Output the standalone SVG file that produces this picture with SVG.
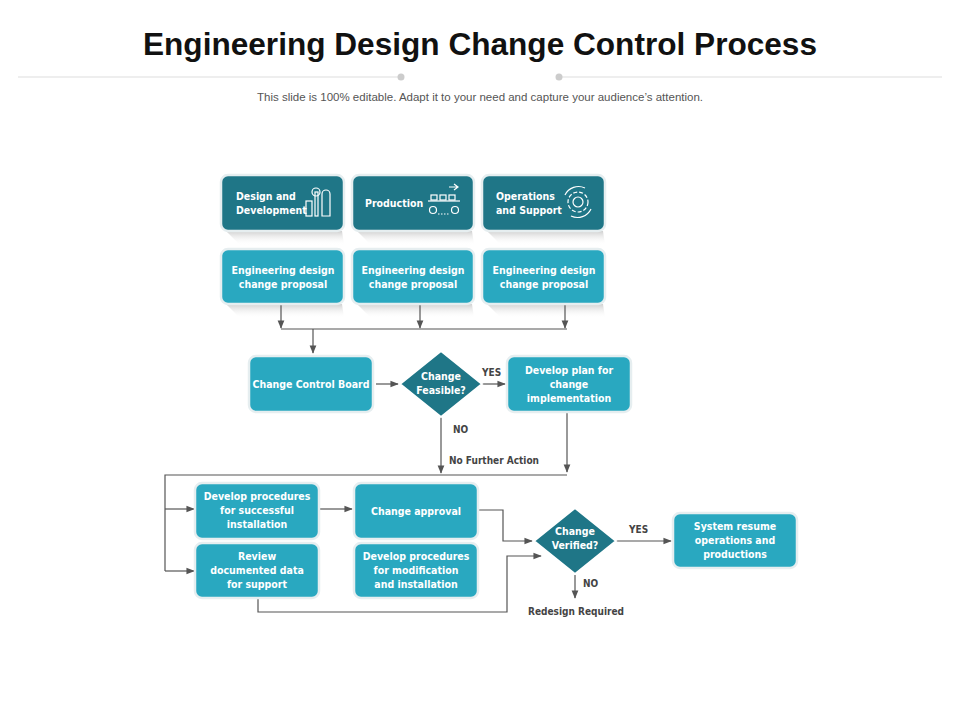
<svg xmlns="http://www.w3.org/2000/svg" width="960" height="720" viewBox="0 0 960 720">
<defs>
<marker id="ah" viewBox="0 0 10 10" refX="9" refY="5" markerWidth="7" markerHeight="7" orient="auto"><path d="M0,1 L10,5 L0,9 z" fill="#555"/></marker>
<linearGradient id="sh" x1="0" y1="0" x2="0" y2="1"><stop offset="0" stop-color="#cfcfcf"/><stop offset="1" stop-color="#ffffff" stop-opacity="0"/></linearGradient>
</defs>
<style>
.dk{fill:#1f7687;stroke:#e6eef0;stroke-width:2.5}
.lt{fill:#29a8c0;stroke:#e6eef0;stroke-width:2.5}
.dd{fill:#1f7687;stroke:#ffffff;stroke-width:2}
.t{font-family:"DejaVu Sans Condensed","Liberation Sans",sans-serif;font-weight:bold;font-size:10.5px;fill:#fff;text-anchor:middle}
.tl{text-anchor:start}
.lb{font-family:"DejaVu Sans Condensed","Liberation Sans",sans-serif;font-weight:bold;font-size:10px;fill:#444}
.c{fill:none;stroke:#555;stroke-width:1.2}
.a{marker-end:url(#ah)}
.ic{fill:none;stroke:#fff;stroke-width:1.2}
.shd{fill:url(#sh)}
</style>
<rect width="960" height="720" fill="#fff"/>
<text x="480" y="55" text-anchor="middle" font-family="Liberation Sans,sans-serif" font-weight="bold" font-size="32" fill="#111" textLength="674" lengthAdjust="spacingAndGlyphs">Engineering Design Change Control Process</text>
<line x1="18" y1="77" x2="398" y2="77" stroke="#ddd" stroke-width="1"/>
<line x1="562" y1="77" x2="942" y2="77" stroke="#ddd" stroke-width="1"/>
<circle cx="401" cy="77" r="3.5" fill="#ccc"/><circle cx="559" cy="77" r="3.5" fill="#ccc"/>
<text x="480" y="101" text-anchor="middle" font-family="Liberation Sans,sans-serif" font-size="11.5" fill="#555">This slide is 100% editable. Adapt it to your need and capture your audience’s attention.</text>

<g id="shadows">
<polygon class="shd" points="226,231 342,231 344,245 240,245"/>
<polygon class="shd" points="357,231 472,231 474,245 371,245"/>
<polygon class="shd" points="487,231 603,231 605,245 501,245"/>
<polygon class="shd" points="226,304 342,304 344,318 240,318"/>
<polygon class="shd" points="357,304 472,304 474,318 371,318"/>
<polygon class="shd" points="487,304 603,304 605,318 501,318"/>
</g>

<g id="connectors">
<path class="c a" d="M281,305 V328"/>
<path class="c a" d="M420,305 V328"/>
<path class="c a" d="M565,305 V328"/>
<path class="c" d="M281,329 H567"/>
<path class="c a" d="M313,329 V353"/>
<path class="c a" d="M376,384 H398"/>
<path class="c a" d="M482,384 H505"/>
<path class="c a" d="M441,417 V473"/>
<path class="c a" d="M567,413 V472"/>
<path class="c" d="M567,475 H165 V571"/>
<path class="c a" d="M165,509 H194"/>
<path class="c a" d="M165,571 H194"/>
<path class="c a" d="M320,509 H352"/>
<path class="c a" d="M479,510 H503 V541 H532"/>
<path class="c a" d="M258,599 V612 H507 V556 H541"/>
<path class="c a" d="M616,541 H671"/>
<path class="c a" d="M575,575 V598"/>
</g>
<g id="labels">
<text class="lb" x="482" y="376">YES</text>
<text class="lb" x="453" y="433">NO</text>
<text class="lb" x="449" y="464">No Further Action</text>
<text class="lb" x="629" y="533">YES</text>
<text class="lb" x="583" y="587">NO</text>
<text class="lb" x="576" y="615" text-anchor="middle">Redesign Required</text>
</g>

<g id="n-design">
<rect class="dk" x="221" y="175" width="123" height="56" rx="7"/>
<text class="t tl" x="236" y="200">Design and</text>
<text class="t tl" x="236" y="214">Development</text>
<g class="ic"><rect x="306" y="201" width="6" height="15"/><rect x="315" y="192" width="3" height="24"/><path d="M322,216 V194 a4,4 0 0 1 8,0 V216 z"/><circle cx="316" cy="192" r="4"/></g>
</g>
<g id="n-production">
<rect class="dk" x="352" y="175" width="122" height="56" rx="7"/>
<text class="t tl" x="365" y="207">Production</text>
<g class="ic"><path d="M449,187 H457 M454,184 L458,187 L454,190"/><rect x="431" y="195" width="6" height="5"/><rect x="440" y="195" width="6" height="5"/><rect x="449" y="195" width="6" height="5"/><line x1="428" y1="201" x2="460" y2="201"/><circle cx="433" cy="210" r="3.5"/><circle cx="455" cy="210" r="3.5"/><path d="M438,214 H450" stroke-dasharray="1.5,1.5"/></g>
</g>
<g id="n-operations">
<rect class="dk" x="482" y="175" width="123" height="56" rx="7"/>
<text class="t tl" x="496" y="200">Operations</text>
<text class="t tl" x="496" y="214">and Support</text>
<g class="ic"><circle cx="578" cy="202" r="5"/><circle cx="578" cy="202" r="10" stroke-dasharray="4,2"/><path d="M565,195 a15,15 0 0 1 20,-7 M591,209 a15,15 0 0 1 -20,7"/></g>
</g>

<g id="n-edcp1"><rect class="lt" x="221" y="249" width="123" height="55" rx="7"/><text class="t" x="283" y="274">Engineering design</text><text class="t" x="283" y="288">change proposal</text></g>
<g id="n-edcp2"><rect class="lt" x="352" y="249" width="122" height="55" rx="7"/><text class="t" x="413" y="274">Engineering design</text><text class="t" x="413" y="288">change proposal</text></g>
<g id="n-edcp3"><rect class="lt" x="482" y="249" width="123" height="55" rx="7"/><text class="t" x="544" y="274">Engineering design</text><text class="t" x="544" y="288">change proposal</text></g>

<g id="n-ccb"><rect class="lt" x="249" y="356" width="124" height="56" rx="7"/><text class="t" x="311" y="388">Change Control Board</text></g>
<g id="n-feasible"><polygon class="dd" points="441,351 482,384 441,417 400,384"/><text class="t" x="441" y="380">Change</text><text class="t" x="441" y="394">Feasible?</text></g>
<g id="n-plan"><rect class="lt" x="507" y="356" width="124" height="56" rx="7"/><text class="t" x="569" y="374">Develop plan for</text><text class="t" x="569" y="388">change</text><text class="t" x="569" y="402">implementation</text></g>

<g id="n-procinst"><rect class="lt" x="195" y="483" width="124" height="56" rx="7"/><text class="t" x="257" y="500">Develop procedures</text><text class="t" x="257" y="514">for successful</text><text class="t" x="257" y="528">installation</text></g>
<g id="n-review"><rect class="lt" x="195" y="543" width="124" height="55" rx="7"/><text class="t" x="257" y="560">Review</text><text class="t" x="257" y="574">documented data</text><text class="t" x="257" y="588">for support</text></g>
<g id="n-approval"><rect class="lt" x="354" y="483" width="124" height="56" rx="7"/><text class="t" x="416" y="515">Change approval</text></g>
<g id="n-procmod"><rect class="lt" x="354" y="543" width="124" height="55" rx="7"/><text class="t" x="416" y="560">Develop procedures</text><text class="t" x="416" y="574">for modification</text><text class="t" x="416" y="588">and installation</text></g>
<g id="n-verified"><polygon class="dd" points="575,508 616,541 575,574 534,541"/><text class="t" x="575" y="535">Change</text><text class="t" x="575" y="549">Verified?</text></g>
<g id="n-resume"><rect class="lt" x="673" y="513" width="124" height="55" rx="7"/><text class="t" x="735" y="530">System resume</text><text class="t" x="735" y="544">operations and</text><text class="t" x="735" y="558">productions</text></g>
</svg>
